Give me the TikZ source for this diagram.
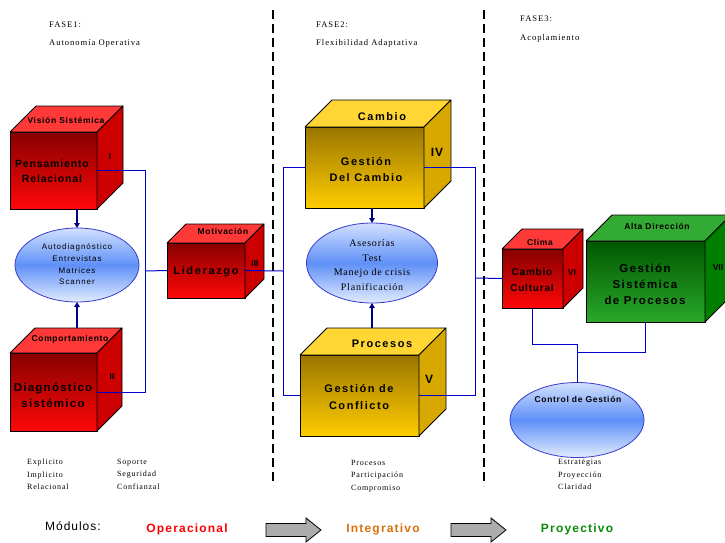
\documentclass[tikz,border=0pt]{standalone}
\usepackage{fontspec}
\setmainfont{Liberation Serif}
\setsansfont{Liberation Sans}
\usetikzlibrary{arrows.meta,shapes.geometric}

\definecolor{redtop}{HTML}{FF3838}
\definecolor{redside}{HTML}{CC0000}
\definecolor{redfrontT}{HTML}{880000}
\definecolor{redfrontB}{HTML}{FF0808}
\definecolor{yeltop}{HTML}{FFD633}
\definecolor{yelside}{HTML}{D6A800}
\definecolor{yelfrontT}{HTML}{9A7600}
\definecolor{yelfrontB}{HTML}{FFCC00}
\definecolor{grntop}{HTML}{33AA33}
\definecolor{grnside}{HTML}{007E00}
\definecolor{grnfrontT}{HTML}{005800}
\definecolor{grnfrontB}{HTML}{2AA82A}
\definecolor{ellT}{HTML}{D2E0FF}
\definecolor{ellM}{HTML}{5F90F7}
\definecolor{ellB}{HTML}{E2ECFF}
\definecolor{ellD}{HTML}{3A3ACC}
\definecolor{wireblue}{HTML}{0000CC}
\definecolor{navyarr}{HTML}{000080}
\definecolor{integ}{HTML}{D9700A}
\definecolor{proy}{HTML}{0A8A0A}

\newcommand{\fs}[2]{\fontsize{#1}{#2}\selectfont}
\newcommand{\lsp}[1]{\addfontfeature{LetterSpace=#1}}

\newcommand{\cubefaces}[4]{%
  \filldraw[face, fill=#3] (#1.north west) -- ([shift={(#2,-#2)}]#1.north west) -- ([shift={(#2,-#2)}]#1.north east) -- (#1.north east) -- cycle;
  \filldraw[face, fill=#4] (#1.north east) -- ([shift={(#2,-#2)}]#1.north east) -- ([shift={(#2,-#2)}]#1.south east) -- (#1.south east) -- cycle;
  \coordinate (#1-tb) at ([shift={(#2,-#2)}]#1.north west);
}
% block arrow: tail x, tip x, centre y
\newcommand{\blockarrow}[3]{%
  \filldraw[blockarr] (#1,#3-6.5) -- (#2-15,#3-6.5) -- (#2-15,#3-12) -- (#2,#3) -- (#2-15,#3+12) -- (#2-15,#3+6.5) -- (#1,#3+6.5) -- cycle;
}

\tikzset{
  face/.style={draw=black, line width=0.8pt, line join=round},
  front/.style={face, rectangle, inner sep=0pt, outer sep=0pt, anchor=north west},
  redfront/.style={front, top color=redfrontT, bottom color=redfrontB},
  yelfront/.style={front, top color=yelfrontT, bottom color=yelfrontB},
  grnfront/.style={front, top color=grnfrontT, bottom color=grnfrontB},
  ell/.style={ellipse, draw=ellD, line width=0.8pt, top color=ellT, bottom color=ellB, middle color=ellM, inner sep=0pt, outer sep=0pt},
  wire/.style={draw=wireblue, line width=1pt},
  arr/.style={draw=navyarr, line width=1.6pt, -{Triangle[length=5pt,width=5.5pt]}},
  dashline/.style={draw=black, line width=1.4pt, dash pattern=on 9pt off 5pt},
  txt/.style={inner sep=0pt, align=center},
  bigtxt/.style={txt, font=\sffamily\bfseries\fs{11}{16}\lsp{14}},
  toptxt/.style={txt, font=\sffamily\bfseries\fs{8.5}{10}\lsp{8}},
  numtxt/.style={txt, font=\sffamily\bfseries\fs{8.5}{10}},
  listtxt/.style={inner sep=0pt, align=left, anchor=north west, font=\rmfamily\fs{8}{12.3}\lsp{10}},
  headtxt/.style={inner sep=0pt, anchor=west, font=\rmfamily\fs{8.6}{10}\lsp{11}},
  modtxt/.style={txt, font=\sffamily\bfseries\fs{12}{14}\lsp{10}},
  blockarr/.style={draw=black, line width=0.8pt, fill=gray!65, line join=miter}
}

\begin{document}
\begin{tikzpicture}[x=1pt,y=-1pt]
\useasboundingbox (0,0) rectangle (725,542);

% dashed phase separators
\draw[dashline] (273,10) -- (273,486);
\draw[dashline] (484,10) -- (484,486);

% headers
\node[headtxt] (h1) at (49,25) {FASE1:};
\node[headtxt] (h1b) at (49,43) {Autonomía Operativa};
\node[headtxt] (h2) at (316,25) {FASE2:};
\node[headtxt] (h2b) at (316,43) {Flexibilidad Adaptativa};
\node[headtxt] (h3) at (520,19) {FASE3:};
\node[headtxt] (h3b) at (520,38) {Acoplamiento};

% ---- cubes: front faces
\node[redfront, minimum width=87pt, minimum height=77pt] (c1) at (10,132) {};
\cubefaces{c1}{26}{redtop}{redside}
\node[redfront, minimum width=87pt, minimum height=78pt] (c2) at (10,353) {};
\cubefaces{c2}{25}{redtop}{redside}
\node[redfront, minimum width=78pt, minimum height=55pt] (c3) at (167,243) {};
\cubefaces{c3}{19}{redtop}{redside}
\node[yelfront, minimum width=119pt, minimum height=81pt] (c4) at (305,127) {};
\cubefaces{c4}{27}{yeltop}{yelside}
\node[yelfront, minimum width=119pt, minimum height=81pt] (c5) at (300,355) {};
\cubefaces{c5}{27}{yeltop}{yelside}
\node[redfront, minimum width=61pt, minimum height=59pt] (c6) at (502,249) {};
\cubefaces{c6}{20}{redtop}{redside}
\node[grnfront, minimum width=119pt, minimum height=81pt] (c7) at (586,241) {};
\cubefaces{c7}{26}{grntop}{grnside}

% ---- ellipses
\node[ell, minimum width=124pt, minimum height=74pt] (e1) at (77,265) {};
\node[ell, minimum width=131pt, minimum height=80pt] (e2) at (372,263) {};
\node[ell, minimum width=134pt, minimum height=75pt] (e3) at (577,420) {};

% ---- cube texts
\node[toptxt] (t1) at (66,120) {Visión Sistémica};
\node[numtxt] (n1) at (110,157) {I};
\node[bigtxt, font=\sffamily\bfseries\fs{10.5}{15}\lsp{8}] (m1) at (52,171) {Pensamiento\\Relacional};

\node[toptxt] (t2) at (70,339) {Comportamiento};
\node[numtxt] (n2) at (112,377) {II};
\node[bigtxt, font=\sffamily\bfseries\fs{11.5}{16}\lsp{11}] (m2) at (53,395) {Diagnóstico\\sistémico};

\node[toptxt] (t3) at (223,231) {Motivación};
\node[numtxt] (n3) at (255,264) {III};
\node[bigtxt, font=\sffamily\bfseries\fs{11}{16}\lsp{15}] (m3) at (206,272) {Liderazgo};

\node[bigtxt] (t4) at (382,117) {Cambio};
\node[txt, font=\sffamily\bfseries\fs{12}{14}\lsp{8}] (n4) at (437,152) {IV};
\node[bigtxt] (m4) at (366,170) {Gestión\\Del Cambio};

\node[bigtxt] (t5) at (382,344) {Procesos};
\node[txt, font=\sffamily\bfseries\fs{12}{14}] (n5) at (429,379) {V};
\node[bigtxt, font=\sffamily\bfseries\fs{11}{17}\lsp{14}] (m5) at (359,397) {Gestión de\\Conflicto};

\node[toptxt] (t6) at (540,242) {Clima};
\node[numtxt] (n6) at (572,273) {VI};
\node[bigtxt, font=\sffamily\bfseries\fs{10}{16}\lsp{8}] (m6) at (532,280) {Cambio\\Cultural};

\node[toptxt] (t7) at (657,226) {Alta Dirección};
\node[numtxt] (n7) at (718,268) {VII};
\node[bigtxt, font=\sffamily\bfseries\fs{11.5}{16}\lsp{12}] (m7) at (645,284) {Gestión\\Sistémica\\de Procesos};

% ---- ellipse texts
\node[txt, font=\sffamily\fs{8}{11.7}\lsp{12}] (et1) at (77,264.5) {Autodiagnóstico\\Entrevistas\\Matrices\\Scanner};
\node[txt, font=\rmfamily\fs{10}{14.5}\lsp{8}] (et2) at (372,265) {Asesorías\\Test\\Manejo de crisis\\Planificación};
\node[toptxt] (et3) at (578,399) {Control de Gestión};

% ---- connectors
\coordinate (j1) at (145,271);
\coordinate (j2) at (283,271);
\coordinate (j3) at (475,278);
\coordinate (j4) at (577,344);
\coordinate (j5) at (577,352);
\draw[wire] (c1.east) -| (j1);
\draw[wire] (c2.east) -| (j1);
\draw[wire] (j1) -- (c3.west);
\draw[wire] (c3.east) -- (j2);
\draw[wire] (c4.west) -| (j2);
\draw[wire] (c5.west) -| (j2);
\draw[wire] (c4.east) -| (j3);
\draw[wire] (c5.east) -| (j3);
\draw[wire] (j3) -- (c6.west);
\draw[wire] (c6.south) |- (j4);
\draw[wire] (j4) -- (e3.north);
\draw[wire] (c7.south) |- (j5);

\draw[arr] (e1.north |- c1.south) -- (e1.north);
\draw[arr] (e1.south |- c2-tb) -- (e1.south);
\draw[arr] (e2.north |- c4.south) -- (e2.north);
\draw[arr] (e2.south |- c5-tb) -- (e2.south);

% ---- lists
\node[listtxt] (l1) at (27,459) {Explicito\\Implicito\\Relacional};
\node[listtxt] (l2) at (117,459) {Soporte\\Seguridad\\Confianzal};
\node[listtxt] (l3) at (351,460) {Procesos\\Participación\\Compromiso};
\node[listtxt] (l4) at (558,459) {Estratégias\\Proyección\\Claridad};

% ---- modules row
\node[inner sep=0pt, anchor=west, font=\sffamily\fs{12}{14}\lsp{8}] (mod) at (45,526) {Módulos:};
\node[modtxt, text=red] (op) at (187,529) {Operacional};
\blockarrow{266}{321}{530}
\node[modtxt, text=integ] (in) at (383,529) {Integrativo};
\blockarrow{451}{506}{530}
\node[modtxt, text=proy] (pr) at (577,529) {Proyectivo};
\end{tikzpicture}
\end{document}
